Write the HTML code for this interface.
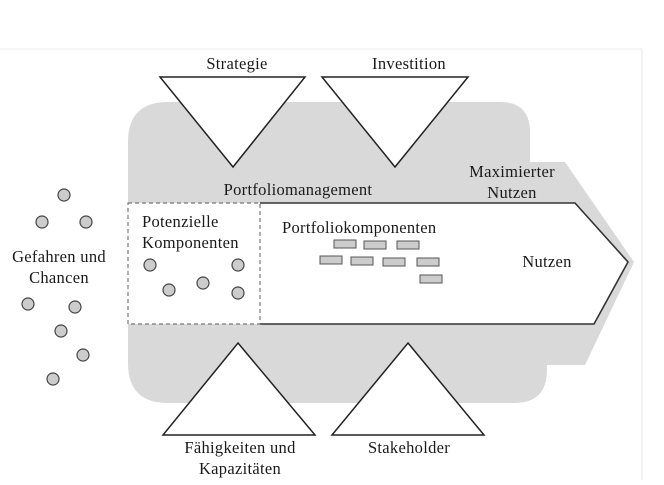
<!DOCTYPE html>
<html><head><meta charset="utf-8"><style>
body{margin:0;background:#fff}
svg text{font-family:"Liberation Serif",serif;font-size:16.5px;letter-spacing:0.3px;fill:#1a1a1a}
</style></head><body>
<svg width="664" height="480" viewBox="0 0 664 480" xmlns="http://www.w3.org/2000/svg">
<line x1="0" y1="49" x2="642" y2="49" stroke="#eee"/>
<line x1="642" y1="49" x2="642" y2="480" stroke="#e4e4e4"/>
<path d="M168 102 H500 Q530 102 530 132 V162 H565 L634 262 L585 365 H547 V370 Q547 403 514 403 H168 Q128 403 128 363 V142 Q128 102 168 102 Z" fill="#d9d9d9"/>
<path d="M260 203 H575 L628 262 L594 324 H260" fill="#fff" stroke="#333" stroke-width="1.6"/>
<rect x="128" y="203" width="132" height="121" fill="#fff" stroke="#777" stroke-width="1.2" stroke-dasharray="4,3"/>
<g fill="#fff" stroke="#222" stroke-width="1.5">
<polygon points="160,77 305,77 233,167"/>
<polygon points="322,77 468,77 395,167"/>
<polygon points="238,343 315,435 163,435"/>
<polygon points="408,343 484,435 332,435"/>
</g>
<g fill="#ccc" stroke="#444" stroke-width="1.2">
<circle cx="64" cy="195" r="6"/><circle cx="42" cy="222" r="6"/><circle cx="86" cy="222" r="6"/>
<circle cx="28" cy="304" r="6"/><circle cx="75" cy="307" r="6"/><circle cx="61" cy="331" r="6"/>
<circle cx="83" cy="355" r="6"/><circle cx="53" cy="379" r="6"/>
<circle cx="150" cy="265" r="6"/><circle cx="238" cy="265" r="6"/><circle cx="169" cy="290" r="6"/>
<circle cx="203" cy="283" r="6"/><circle cx="238" cy="293" r="6"/>
</g>
<g fill="#ccc" stroke="#555" stroke-width="1">
<rect x="334" y="240" width="22" height="8"/><rect x="364" y="241" width="22" height="8"/><rect x="397" y="241" width="22" height="8"/>
<rect x="320" y="256" width="22" height="8"/><rect x="351" y="257" width="22" height="8"/><rect x="383" y="258" width="22" height="8"/><rect x="417" y="258" width="22" height="8"/>
<rect x="420" y="275" width="22" height="8"/>
</g>
<g text-anchor="middle">
<text x="237" y="69">Strategie</text>
<text x="409" y="69">Investition</text>
<text x="298" y="195">Portfoliomanagement</text>
<text x="512" y="177">Maximierter</text>
<text x="512" y="198">Nutzen</text>
<text x="547" y="267">Nutzen</text>
<text x="59" y="262">Gefahren und</text>
<text x="59" y="283">Chancen</text>
<text x="240" y="453">Fähigkeiten und</text>
<text x="240" y="474">Kapazitäten</text>
<text x="409" y="453">Stakeholder</text>
</g>
<text x="142" y="227">Potenzielle</text>
<text x="142" y="248">Komponenten</text>
<text x="282" y="233">Portfoliokomponenten</text>
</svg>
</body></html>
